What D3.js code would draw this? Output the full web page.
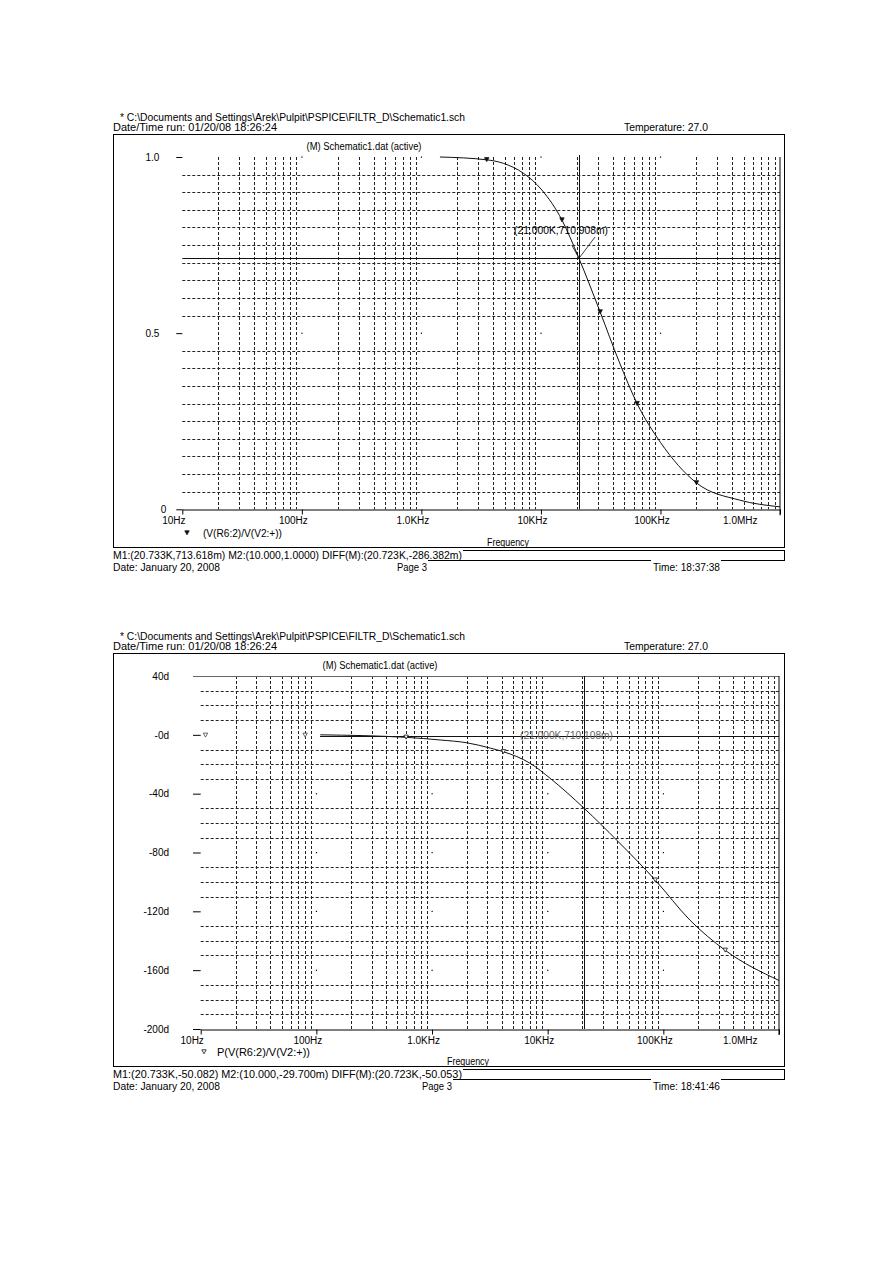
<!DOCTYPE html>
<html>
<head>
<meta charset="utf-8">
<script src="https://cdn.jsdelivr.net/npm/d3@7"></script>
<style>
  body { margin: 0; background: #fff; }
  svg { display: block; }
  text { font-family: "Liberation Sans", Arial, sans-serif; font-size: 10px; fill: #000; }
</style>
</head>
<body>
<svg id="page" width="893" height="1263"></svg>
<script>
'use strict';

// axis ticks
const freqTicks = [10, 100, 1e3, 1e4, 1e5, 1e6];
const freqLabels = ["10Hz", "100Hz", "1.0KHz", "10KHz", "100KHz", "1.0MHz"];
const magTicks = [1.0, 0.5, 0];
const magLabels = ["1.0", "0.5", "0"];
const phaseTicks = [40, 0, -40, -80, -120, -160, -200];
const phaseLabels = ["40d", "-0d", "-40d", "-80d", "-120d", "-160d", "-200d"];

// V(R6:2)/V(V2:+) magnitude
const magFreq = [1430, 3520, 4850, 7130, 10200, 15000, 20600, 31300, 45000, 63800, 100000, 200000, 460000, 1000000];
const magValue = [1.000, 0.992, 0.982, 0.954, 0.906, 0.821, 0.716, 0.560, 0.420, 0.300, 0.190, 0.075, 0.026, 0.007];
const magMarkFreq = [3520, 15000, 31300, 63800, 200000];

// phase in degrees
const phaseFreq = [108, 597, 1175, 2000, 3185, 4150, 7070, 10520, 20700, 40000, 85200, 170000, 343000, 1000000];
const phaseValue = [0, -1.7, -3.5, -5.4, -9.0, -11.5, -19.4, -29.6, -50, -72, -98.8, -126, -146.5, -167];
const phaseMarkFreq = [597, 4150, 85200, 343000];

const cursorFreq = 20733;

const svg = d3.select("#page");

function txt(g, x, y, s, opts) {
  opts = opts || {};
  const t = g.append("text").attr("x", x).attr("y", y).text(s);
  if (opts.anchor) t.attr("text-anchor", opts.anchor);
  if (opts.len) t.attr("textLength", opts.len).attr("lengthAdjust", "spacingAndGlyphs");
  if (opts.fill) t.style("fill", opts.fill);
  return t;
}

function hline(g, x1, x2, y, color, w) {
  g.append("line").attr("x1", x1).attr("x2", x2).attr("y1", y).attr("y2", y)
    .attr("stroke", color || "#000").attr("stroke-width", w || 1);
}
function vline(g, x, y1, y2, color, w) {
  g.append("line").attr("x1", x).attr("x2", x).attr("y1", y1).attr("y2", y2)
    .attr("stroke", color || "#000").attr("stroke-width", w || 1);
}

function interpAt(freqs, vals, f) {
  const lf = Math.log10(f);
  for (let i = 1; i < freqs.length; i++) {
    const a = Math.log10(freqs[i - 1]), b = Math.log10(freqs[i]);
    if (lf <= b) return vals[i - 1] + (vals[i] - vals[i - 1]) * (lf - a) / (b - a);
  }
  return vals[vals.length - 1];
}

const tri = "M-2.2,-2.2L2.2,-2.2L0,1.8Z";

function drawPanel(cfg) {
  const g = svg.append("g");
  const oy = cfg.oy;
  const x = d3.scaleLog().domain([10, 1e6]).range([cfg.left, cfg.right]);
  const y = d3.scaleLinear().domain(cfg.yDomain).range([cfg.bottom, cfg.top]);

  // page header
  txt(g, 120, oy + 120.5, "* C:\\Documents and Settings\\Arek\\Pulpit\\PSPICE\\FILTR_D\\Schematic1.sch", { len: 345 });
  txt(g, 113, oy + 131, "Date/Time run: 01/20/08 18:26:24", { len: 164 });
  txt(g, 624, oy + 131, "Temperature: 27.0", { len: 84 });

  // frame
  hline(g, 113, 785, oy + 134.5);
  vline(g, 113.5, oy + 134, oy + 548);
  vline(g, 784.5, oy + 134, oy + 548);
  hline(g, 113, 785, oy + 547.5);
  txt(g, cfg.freqX, oy + 545.5, "Frequency", { len: 42 });

  txt(g, cfg.titleX, oy + 149.5, "(M) Schematic1.dat (active)", { anchor: "middle", len: 115 });

  // minor grid, dashed
  const grid = g.append("g").attr("stroke", "#222").attr("stroke-width", 1).attr("stroke-dasharray", "3,2");
  const minorF = [];
  for (let d = 10; d < 1e6; d *= 10) for (let k = 2; k <= 9; k++) minorF.push(d * k);
  grid.selectAll("line.v").data(minorF).join("line")
    .attr("x1", d => Math.round(x(d)) + 0.5).attr("x2", d => Math.round(x(d)) + 0.5)
    .attr("y1", cfg.top).attr("y2", cfg.bottom);
  grid.selectAll("line.h").data(cfg.minorY).join("line")
    .attr("x1", cfg.left).attr("x2", cfg.right)
    .attr("y1", d => Math.round(y(d)) + 0.5).attr("y2", d => Math.round(y(d)) + 0.5);

  // major grid dots
  const dots = [];
  freqTicks.slice(1, -1).forEach(f => cfg.dotY.forEach(v => dots.push([f, v])));
  g.selectAll("rect.dot").data(dots).join("rect")
    .attr("x", d => x(d[0]) - 0.5).attr("y", d => y(d[1]) - 0.5)
    .attr("width", 1.2).attr("height", 1.2).attr("fill", "#000");

  // x axis
  const xAxis = g.append("g").attr("transform", `translate(0,${Math.round(cfg.bottom) + 0.5})`)
    .call(d3.axisBottom(x).tickValues(freqTicks).tickFormat((d, i) => freqLabels[i])
      .tickSize(5).tickSizeOuter(0).tickPadding(2));
  xAxis.select(".domain").attr("stroke", "#000");
  xAxis.selectAll("text").style("font-size", "10px").attr("font-family", null)
    .attr("dx", -9);
  xAxis.selectAll(".tick").filter((d, i) => i === freqTicks.length - 1)
    .select("text").attr("text-anchor", "end").attr("dx", -(cfg.right - 757));

  // y axis ticks and labels
  const yAxis = g.append("g").attr("transform", `translate(${cfg.left},0)`)
    .call(d3.axisLeft(y).tickValues(cfg.yTicks).tickFormat((d, i) => cfg.yLabels[i])
      .tickSize(cfg.yTickLen).tickPadding(cfg.yPad));
  yAxis.select(".domain").remove();
  yAxis.selectAll("text").style("font-size", "10px").attr("font-family", null);
  yAxis.selectAll(".tick line").attr("stroke", "#000");
  if (cfg.zeroShift) {
    yAxis.selectAll(".tick").filter(d => d === 0).select("text").attr("dx", cfg.zeroShift);
  }
  if (cfg.topLine) hline(g, cfg.left - cfg.yTickLen, cfg.right, Math.round(cfg.top) + 0.5, "#666");

  // right edge of plot
  vline(g, cfg.right, cfg.top, cfg.bottom + 6);

  // cursors
  vline(g, Math.round(x(cursorFreq)) + 0.5, cfg.cursorTop, cfg.bottom, "#111");
  hline(g, cfg.hCursorX1, cfg.right, Math.round(y(cfg.hCursorValue)) + 0.5, "#111");

  // trace
  const line = d3.line().x(d => x(d[0])).y(d => y(d[1])).curve(d3.curveMonotoneX);
  g.append("path").datum(cfg.freq.map((f, i) => [f, cfg.vals[i]]))
    .attr("d", line).attr("fill", "none").attr("stroke", "#111").attr("stroke-width", 1);

  // trace markers
  g.selectAll("path.mark").data(cfg.markFreq).join("path")
    .attr("transform", f => `translate(${x(f)},${y(interpAt(cfg.freq, cfg.vals, f))})`)
    .attr("d", tri)
    .attr("fill", cfg.markFill).attr("stroke", "#111").attr("stroke-width", 0.8);

  // legend
  g.append("path").attr("transform", `translate(${cfg.legendMarkX},${oy + 533})`).attr("d", tri)
    .attr("fill", cfg.markFill).attr("stroke", "#111").attr("stroke-width", 0.8);
  txt(g, cfg.legendX, oy + 536.5, cfg.legend, { len: cfg.legendLen });

  // cursor readout box
  txt(g, 113, oy + 558.5, cfg.readout, { len: 349 });
  hline(g, 463, 785, oy + 550.5);
  vline(g, 784.5, oy + 550, oy + 561);
  txt(g, 113, oy + 570.5, "Date: January 20, 2008", { len: 107 });
  txt(g, cfg.pageX, oy + 570.5, "Page 3", { len: 30 });
  hline(g, cfg.pageX + 31, 651, oy + 560.5);
  hline(g, 721, 785, oy + 560.5);
  txt(g, 653, oy + 570.5, cfg.time, { len: 67 });

  return { g: g, x: x, y: y };
}

// top: magnitude
const magPanel = drawPanel({
  oy: 0, left: 182.3, right: 780, top: 157, bottom: 509.3,
  yDomain: [0, 1], yTicks: magTicks, yLabels: magLabels, yTickLen: 6, yPad: 17, zeroShift: 7,
  minorY: d3.range(1, 20).filter(i => i !== 10).map(i => i * 0.05),
  dotY: [1.0, 0.5],
  topLine: false,
  cursorTop: 155, hCursorX1: 182.3, hCursorValue: 0.7136,
  freq: magFreq, vals: magValue, markFreq: magMarkFreq, markFill: "#111",
  titleX: 364, freqX: 487,
  legendMarkX: 187, legendX: 203, legend: "(V(R6:2)/V(V2:+))", legendLen: 79,
  readout: "M1:(20.733K,713.618m)  M2:(10.000,1.0000)  DIFF(M):(20.723K,-286.382m)",
  pageX: 397, time: "Time: 18:37:38"
});

// label on the magnitude cursor with its leader lines
txt(magPanel.g, 514, 234, "(21.000K,710.908m)", { len: 94 });
magPanel.g.append("path").attr("d", "M571.7,245L578.3,257M595,237L580,257")
  .attr("fill", "none").attr("stroke", "#111").attr("stroke-width", 0.8);

// bottom: phase
const phasePanel = drawPanel({
  oy: 519, left: 200.7, right: 779, top: 676, bottom: 1029,
  yDomain: [-200, 40], yTicks: phaseTicks, yLabels: phaseLabels, yTickLen: 7.7, yPad: 24,
  minorY: d3.range(-190, 40, 10).filter(v => v % 40 !== 0),
  dotY: [-40, -80, -120, -160],
  topLine: true,
  cursorTop: 676, hCursorX1: 320, hCursorValue: -0.6,
  freq: phaseFreq, vals: phaseValue, markFreq: phaseMarkFreq, markFill: "#fff",
  titleX: 380, freqX: 447,
  legendMarkX: 204, legendX: 217, legend: "P(V(R6:2)/V(V2:+))", legendLen: 93,
  readout: "M1:(20.733K,-50.082)  M2:(10.000,-29.700m)  DIFF(M):(20.723K,-50.053)",
  pageX: 422, time: "Time: 18:41:46"
});

// stray symbols on the phase zero line and the leftover cursor label
[11, 80].forEach(f => {
  phasePanel.g.append("path").attr("transform", `translate(${phasePanel.x(f)},${phasePanel.y(0) + 0.5})`)
    .attr("d", tri).attr("fill", "#fff").attr("stroke", "#444").attr("stroke-width", 0.8);
});
txt(phasePanel.g, 520, 738.5, "(21.000K,710.108m)", { len: 93, fill: "#666" });
</script>
</body>
</html>
